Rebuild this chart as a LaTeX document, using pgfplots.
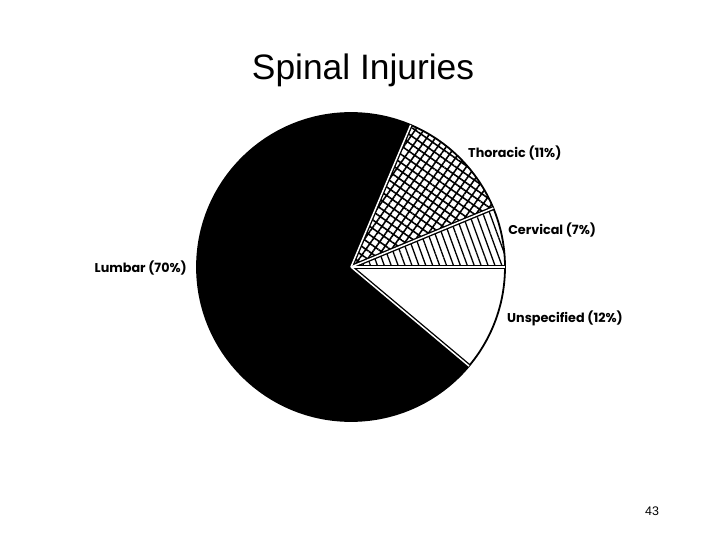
\documentclass[border=0pt]{standalone}
\usepackage{pgfplots}
\pgfplotsset{compat=1.18}
\usetikzlibrary{patterns.meta}
\usepackage{fontspec}
\setmainfont{Liberation Sans}
\newfontfamily\labfont{Poppins}
\tikzset{lab/.style={inner sep=0pt, font=\labfont\bfseries\fontsize{12.8}{14}\selectfont}}

% slice boundaries in degrees
% cervical 0 -> 22.5, thoracic 22.5 -> 67.2, lumbar 67.2 -> 320, unspecified 320 -> 360
\def\R{154bp}
\newcommand{\slice}[3]{%
  \path[#3] (axis cs:0,0) -- (axis cs:{cos(#1)},{sin(#1)})
    arc[start angle=#1, end angle=#2, radius=\R] -- cycle;}
\newcommand{\gap}[1]{%
  \draw[black, line width=4.2bp] (axis cs:0,0) -- (axis cs:{cos(#1)},{sin(#1)});}
\newcommand{\gapw}[1]{%
  \draw[white, line width=1.5bp] (axis cs:0,0) -- (axis cs:{cos(#1)},{sin(#1)});}

\begin{document}
\begin{tikzpicture}
\useasboundingbox (0,0) rectangle (720bp,540bp);
\fill[white] (0,0) rectangle (720bp,540bp);

\node[font=\fontsize{35.5}{38}\selectfont] at (363bp,470bp) {Spinal Injuries};
\node[font=\fontsize{12.5}{14}\selectfont] at (652bp,29bp) {43};

\begin{axis}[
    at={(351bp,273bp)}, anchor=center,
    width=308bp, height=308bp, scale only axis,
    xmin=-1, xmax=1, ymin=-1, ymax=1,
    hide axis, clip=false,
]
% lumbar
\slice{67.2}{320}{fill=black}
% thoracic
\slice{22.5}{67.2}{fill=white}
\slice{22.5}{67.2}{pattern={Lines[angle=55, distance=7bp, line width=1.6bp]}, pattern color=black}
\slice{22.5}{67.2}{pattern={Lines[angle=-35, distance=7bp, line width=1.6bp]}, pattern color=black}
% cervical
\slice{0}{22.5}{fill=white}
\slice{0}{22.5}{pattern={Lines[angle=-70, distance=6.5bp, line width=1.3bp]}, pattern color=black}
% unspecified
\slice{-40}{0}{fill=white}

% separators
\gap{0}\gap{22.5}\gap{67.2}\gap{-40}
\draw[black, line width=1.8bp] (axis cs:0,0) circle[radius=\R];
\gapw{0}\gapw{22.5}\gapw{67.2}\gapw{-40}

% labels
\node[lab, anchor=east] at (axis cs:-1.065,-0.006) {Lumbar (70\%)};
\node[lab, anchor=west] at (axis cs:0.76,0.74) {Thoracic (11\%)};
\node[lab, anchor=west] at (axis cs:1.02,0.24) {Cervical (7\%)};
\node[lab, anchor=west] at (axis cs:1.013,-0.331) {Unspecified (12\%)};
\end{axis}
\end{tikzpicture}
\end{document}
